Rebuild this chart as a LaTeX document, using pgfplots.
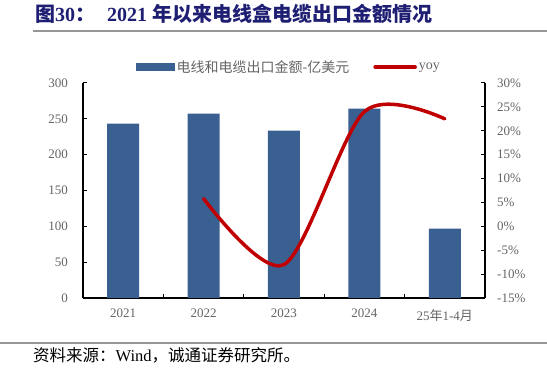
\documentclass[border=0pt]{standalone}
\usepackage{pgfplots}
\pgfplotsset{compat=1.18}
\usepackage{fontspec}
\setmainfont{Liberation Serif}
\newfontfamily\cjk{Noto Sans CJK SC}
\definecolor{barblue}{RGB}{58,95,145}
\definecolor{linered}{RGB}{192,0,0}
\definecolor{titleblue}{RGB}{30,30,115}
\definecolor{txtgray}{RGB}{100,100,100}
\definecolor{rulegray}{RGB}{150,150,150}
\begin{document}
\begin{tikzpicture}[x=1pt,y=1pt]
\useasboundingbox (0,0) rectangle (547,374);
\node[anchor=base west, inner sep=0, text=titleblue, font=\fontsize{20}{20}\selectfont\bfseries] at (35,352) {{\cjk 图}30{\cjk ：}\hspace{12pt}2021 {\cjk 年以来电线盒电缆出口金额情况}};
\draw[line width=2pt, rulegray] (33,343) -- (547,343);
\draw[line width=1.5pt, rulegray] (0,31) -- (547,31);
\node[anchor=base west, inner sep=0, font=\fontsize{16.5}{16.5}\selectfont] at (33,12) {{\cjk 资料来源：}Wind{\cjk ，诚通证券研究所。}};

\begin{axis}[
  at={(83pt,76pt)}, anchor=south west, scale only axis, width=402pt, height=215pt,
  xmin=-0.5, xmax=4.5, ymin=0, ymax=300,
  axis x line*=bottom, axis y line*=left,
  axis line style={black, line width=1.2pt},
  tick align=inside, major tick length=4pt,
  tick style={black, line width=1pt},
  xtick={0.5,1.5,2.5,3.5}, xticklabels={},
  extra x ticks={0,1,2,3,4},
  extra x tick labels={2021,2022,2023,2024,{25{\cjk 年}1-4{\cjk 月}}},
  extra x tick style={major tick length=0pt},
  ytick={0,50,...,300}, yticklabels={0,50,100,150,200,250,300},
  tick label style={font=\fontsize{13}{13}\selectfont, text=txtgray},
  yticklabel style={inner sep=0pt, xshift=-15pt},
  xticklabel style={inner sep=0pt, yshift=-11pt},
  clip=false,
]
\addplot[ybar, bar width=32pt, fill=barblue, draw=none] coordinates {(0,243.2)(1,257.2)(2,233.4)(3,264.1)(4,96.7)};
\end{axis}

\begin{axis}[
  at={(83pt,76pt)}, anchor=south west, scale only axis, width=402pt, height=215pt,
  xmin=-0.5, xmax=4.5, ymin=-15, ymax=30,
  axis x line=none, axis y line*=right,
  axis line style={black, line width=1.2pt},
  tick align=inside, major tick length=4pt,
  tick style={black, line width=1pt},
  ytick={-15,-10,...,30},
  yticklabels={-15\%,-10\%,-5\%,0\%,5\%,10\%,15\%,20\%,25\%,30\%},
  tick label style={font=\fontsize{13}{13}\selectfont, text=txtgray},
  yticklabel style={inner sep=0pt, xshift=12pt, anchor=west},
  legend columns=2,
  legend style={draw=none, fill=none, at={(0.5125,1.074)}, anchor=center,
    font=\fontsize{14}{14}\selectfont, text=txtgray,
    /tikz/every even column/.append style={column sep=22pt},
    nodes={inner sep=2pt}},
  clip=false,
]
\addlegendimage{legend image code/.code={\fill[barblue] (0pt,-3.5pt) rectangle (38pt,3.5pt);}}
\addlegendentry{\cjk 电线和电缆出口金额-亿美元}
\addplot[linered, line width=3.5pt, line cap=round, smooth,
  legend image code/.code={\draw[linered, line width=3.5pt, line cap=round] (0pt,0pt) -- (40pt,0pt);}]
  coordinates {(1,5.8)(2,-8)(3,24)(4,22.5)};
\addlegendentry{yoy}
\end{axis}
\end{tikzpicture}
\end{document}
